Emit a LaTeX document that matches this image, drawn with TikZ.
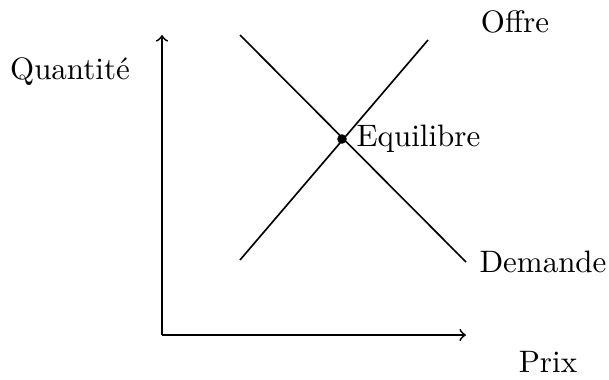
\documentclass[tikz,border=0pt]{standalone}
\begin{document}
\begin{tikzpicture}[x=0.3356pt,y=-0.3356pt,
  axis/.style={->,line width=0.6pt},
  curve/.style={line width=0.55pt},
  lbl/.style={inner sep=0pt,font=\fontsize{10.4}{12}\selectfont}]
\useasboundingbox (0,0) rectangle (609,379);
\coordinate (O) at (162,335);
\coordinate (Ytop) at (162,35);
\coordinate (Xend) at (466,335);
\draw[axis] (O) -- (Ytop);
\draw[axis] (O) -- (Xend);
\coordinate (S1) at (240,260);
\coordinate (S2) at (428,40);
\coordinate (D1) at (240,35);
\coordinate (D2) at (466,262);
\draw[curve] (S1) -- (S2);
\draw[curve] (D1) -- (D2);
\node[circle,fill,inner sep=0pt,minimum size=3.2pt] (E) at (342,139) {};
\node[lbl,anchor=west] (El) at (356,139) {Equilibre};
\node[lbl] (Q) at (70,72) {Quantité};
\node[lbl] (P) at (548,362) {Prix};
\node[lbl] (Of) at (515,22) {Offre};
\node[lbl] (Dm) at (543,262) {Demande};
\end{tikzpicture}
\end{document}
